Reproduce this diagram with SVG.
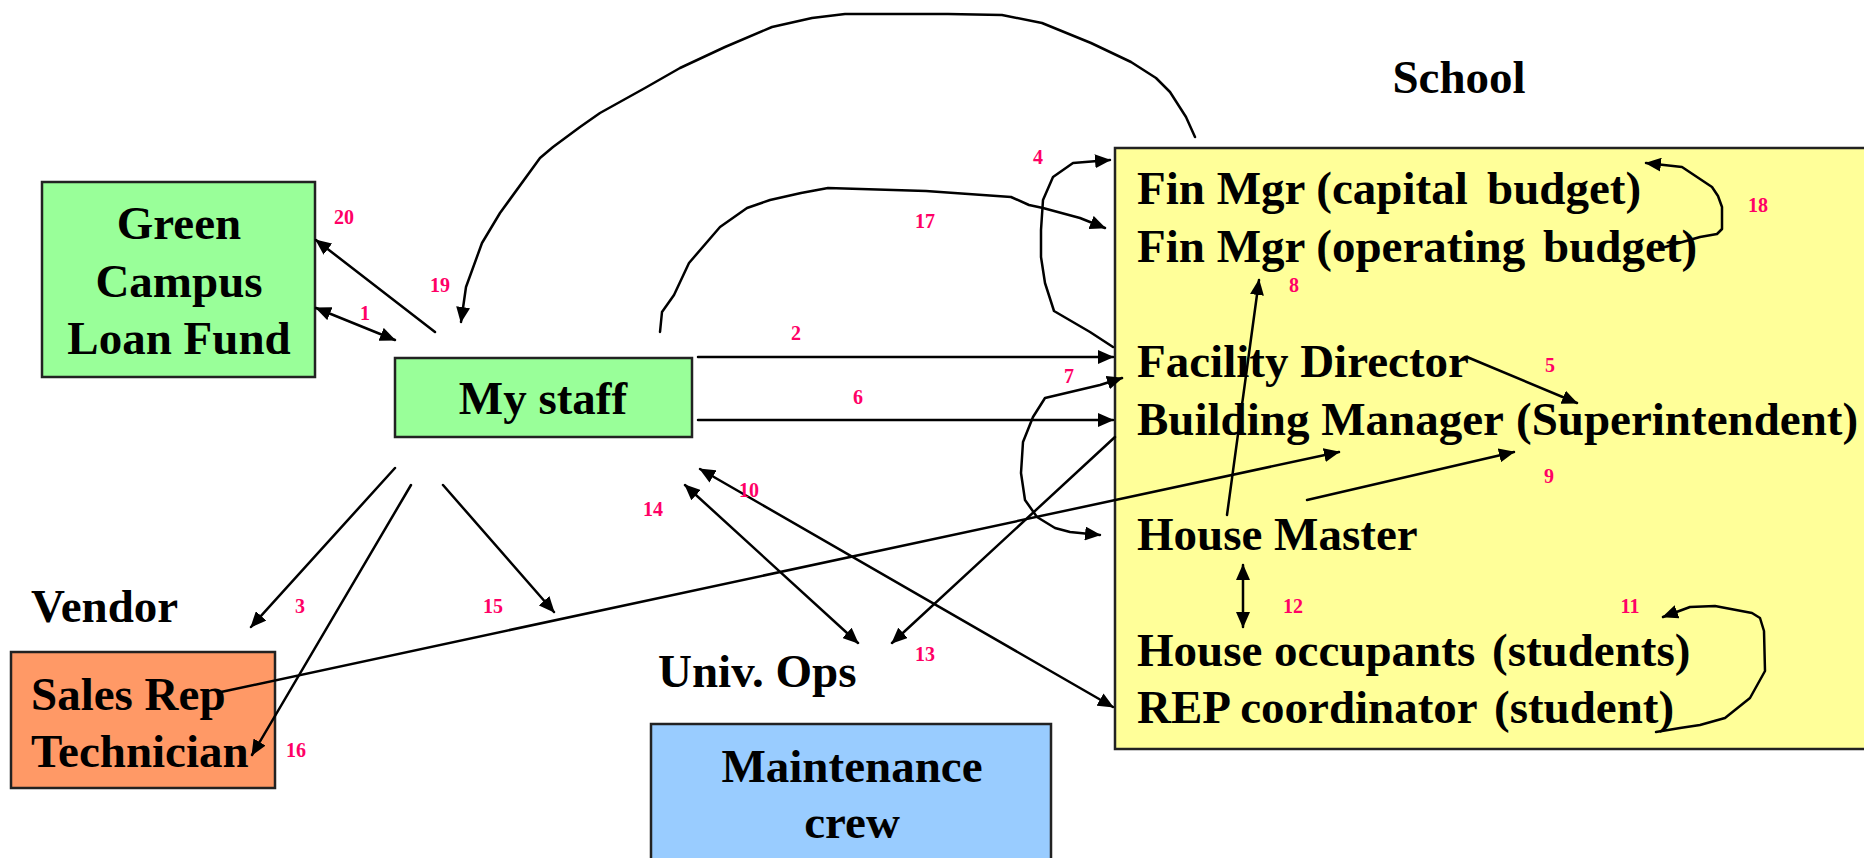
<svg xmlns="http://www.w3.org/2000/svg" width="1864" height="858" viewBox="0 0 1864 858">
<style>
.t{font-family:"Liberation Serif","Times New Roman",serif;font-weight:bold;font-size:47px;fill:#000}
.n{font-family:"Liberation Serif","Times New Roman",serif;font-weight:bold;font-size:20px;fill:#FF0066;text-anchor:middle}
.c{fill:none;stroke:#000;stroke-width:2.5;stroke-linejoin:round;stroke-linecap:round}
.a{marker-end:url(#ah)}
.b{marker-start:url(#ah);marker-end:url(#ah)}
.box{stroke:#222;stroke-width:2.5}
</style>
<defs>
<marker id="ah" markerUnits="userSpaceOnUse" markerWidth="16" markerHeight="14" refX="15" refY="7" orient="auto-start-reverse">
<path d="M0,0 L16,7 L0,14 z" fill="#000"/>
</marker>
</defs>
<rect width="1864" height="858" fill="#fff"/>

<g id="school">
<rect class="box" x="1115" y="148" width="760" height="601" fill="#FFFF99"/>
<text class="t" x="1459" y="93" text-anchor="middle">School</text>
<text class="t" y="204"><tspan x="1137">Fin Mgr (capital</tspan><tspan x="1487">budget)</tspan></text>
<text class="t" y="262"><tspan x="1137">Fin Mgr (operating</tspan><tspan x="1543">budget)</tspan></text>
<text class="t" x="1137" y="377">Facility Director</text>
<text class="t" y="435"><tspan x="1137">Building Manager</tspan><tspan x="1516">(Superintendent)</tspan></text>
<text class="t" x="1137" y="550">House Master</text>
<text class="t" y="666"><tspan x="1137">House occupants</tspan><tspan x="1492">(students)</tspan></text>
<text class="t" y="723"><tspan x="1137">REP coordinator</tspan><tspan x="1494">(student)</tspan></text>
</g>

<g id="green-campus">
<rect class="box" x="42" y="182" width="273" height="195" fill="#99FF99"/>
<text class="t" x="179" y="239" text-anchor="middle">Green</text>
<text class="t" x="179" y="297" text-anchor="middle">Campus</text>
<text class="t" x="179" y="354" text-anchor="middle">Loan Fund</text>
</g>

<g id="my-staff">
<rect class="box" x="395" y="358" width="297" height="79" fill="#99FF99"/>
<text class="t" x="543" y="414" text-anchor="middle">My staff</text>
</g>

<g id="vendor">
<text class="t" x="31" y="622">Vendor</text>
<rect class="box" x="11" y="652" width="264" height="136" fill="#FF9966"/>
<text class="t" x="31" y="710">Sales Rep</text>
<text class="t" x="31" y="767">Technician</text>
</g>

<g id="univ-ops">
<text class="t" x="658" y="687">Univ. Ops</text>
<rect class="box" x="651" y="724" width="400" height="145" fill="#99CCFF"/>
<text class="t" x="852" y="782" text-anchor="middle">Maintenance</text>
<text class="t" x="852" y="838" text-anchor="middle">crew</text>
</g>

<g id="connectors">
<path class="c b" d="M316,308 L395,340"/>
<path class="c a" d="M698,357 L1113,357"/>
<path class="c a" d="M395,468 L251,627"/>
<path class="c a" d="M1113,347 L1090,332 L1054,311 L1045,283 L1041,257 L1041,230 L1043,200 L1053,177 L1073,163 L1110,160"/>
<path class="c a" d="M1467,357 L1577,403"/>
<path class="c a" d="M698,420 L1113,420"/>
<path class="c b" d="M1122,378 L1100,385 L1045,398 L1033,417 L1023,442 L1021,473 L1025,500 L1037,517 L1055,528 L1070,532 L1100,535"/>
<path class="c a" d="M1227,515 L1259,280"/>
<path class="c a" d="M1307,500 L1514,452"/>
<path class="c b" d="M700,469 L1113,707"/>
<path class="c a" d="M1656,732 L1680,728 L1700,725 L1725,718 L1750,698 L1765,671 L1764,631 L1760,618 L1752,613 L1715,606 L1690,607 L1663,617"/>
<path class="c b" d="M1243,565 L1243,627"/>
<path class="c a" d="M1115,437 L892,643"/>
<path class="c b" d="M685,485 L858,643"/>
<path class="c a" d="M443,485 L554,612"/>
<path class="c a" d="M411,485 L252,755"/>
<path class="c a" d="M660,332 L662,312 L674,295 L689,263 L720,227 L747,208 L770,200 L801,193 L828,188 L926,191 L1011,197 L1029,205 L1043,208 L1080,218 L1105,228"/>
<path class="c a" d="M1665,247 L1700,237 L1717,234 L1722,229 L1722,207 L1718,196 L1712,187 L1700,179 L1682,167 L1646,163"/>
<path class="c a" d="M1195,137 L1186,117 L1170,92 L1156,78 L1131,62 L1091,43 L1042,23 L1002,15 L948,14 L845,14 L812,18 L772,27 L725,47 L680,68 L645,88 L600,113 L580,127 L553,147 L540,158 L500,213 L482,243 L466,287 L461,322"/>
<path class="c a" d="M435,332 L316,240"/>
<path class="c a" d="M221,692 L1339,452"/>
</g>

<g id="labels">
<text class="n" x="365" y="320">1</text>
<text class="n" x="796" y="340">2</text>
<text class="n" x="300" y="613">3</text>
<text class="n" x="1038" y="164">4</text>
<text class="n" x="1550" y="372">5</text>
<text class="n" x="858" y="404">6</text>
<text class="n" x="1069" y="383">7</text>
<text class="n" x="1294" y="292">8</text>
<text class="n" x="1549" y="483">9</text>
<text class="n" x="749" y="497">10</text>
<text class="n" x="1630" y="613">11</text>
<text class="n" x="1293" y="613">12</text>
<text class="n" x="925" y="661">13</text>
<text class="n" x="653" y="516">14</text>
<text class="n" x="493" y="613">15</text>
<text class="n" x="296" y="757">16</text>
<text class="n" x="925" y="228">17</text>
<text class="n" x="1758" y="212">18</text>
<text class="n" x="440" y="292">19</text>
<text class="n" x="344" y="224">20</text>
</g>
</svg>
